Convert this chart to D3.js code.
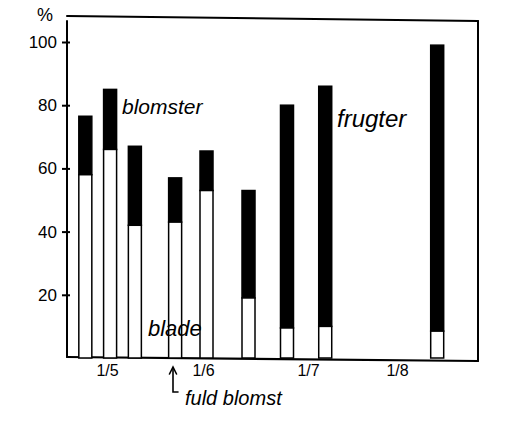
<!DOCTYPE html>
<html>
<head>
<meta charset="utf-8">
<script src="https://cdn.jsdelivr.net/npm/d3@7"></script>
<style>
  html, body { margin: 0; padding: 0; background: #fff; }
  svg { display: block; }
  text { font-family: "Liberation Sans", "DejaVu Sans", sans-serif; fill: #000; }
</style>
</head>
<body>
<svg id="chart" width="527" height="429"></svg>
<script>
// ---- data ----
const dates = ["24/4", "2/5", "10/5", "23/5", "2/6", "14/6", "25/6", "7/7", "15/8"];
const blade = [58, 66, 42, 43, 53, 19, 9.5, 10, 8.5];            // white part
const blomsterFrugter = [18.5, 19, 25, 14, 12.5, 34, 70.5, 76, 90.5]; // black part
const xTickLabels = ["1/5", "1/6", "1/7", "1/8"];
const yTicks = [20, 40, 60, 80, 100];
const annotations = ["blomster", "frugter", "blade", "fuld blomst"];

// ---- helpers ----
const parse = s => { const [d, m] = s.split("/").map(Number); return new Date(2000, m - 1, d); };

const svg = d3.select("#chart");

const x = d3.scaleTime()
  .domain(xTickLabels.map(parse))
  .range([107, 203, 308, 397]);
const y = d3.scaleLinear().domain([0, 100]).range([358, 42]);

const barW = 13;
const data = dates.map((d, i) => ({ date: parse(d), blade: blade[i], top: blade[i] + blomsterFrugter[i] }));

// ---- frame ----
const frame = svg.append("g").attr("stroke", "#000").attr("fill", "none").attr("stroke-linecap", "round");
frame.append("line").attr("x1", 67).attr("y1", 16).attr("x2", 478).attr("y2", 21).attr("stroke-width", 2);
frame.append("line").attr("x1", 67).attr("y1", 21).attr("x2", 67).attr("y2", 357).attr("stroke-width", 2);
frame.append("line").attr("x1", 478).attr("y1", 21).attr("x2", 478).attr("y2", 361).attr("stroke-width", 2);
frame.append("line").attr("x1", 67).attr("y1", 357).attr("x2", 478).attr("y2", 361).attr("stroke-width", 2.2);

// ---- bars ----
const bars = svg.append("g");
bars.selectAll("rect.blk").data(data).join("rect")
  .attr("class", "blk")
  .attr("x", d => x(d.date) - barW / 2)
  .attr("width", barW)
  .attr("y", d => y(d.top))
  .attr("height", d => y(d.blade) - y(d.top))
  .attr("fill", "#000").attr("stroke", "#000").attr("stroke-width", 1.5);
bars.selectAll("rect.wht").data(data).join("rect")
  .attr("class", "wht")
  .attr("x", d => x(d.date) - barW / 2)
  .attr("width", barW)
  .attr("y", d => y(d.blade))
  .attr("height", d => y(0) - y(d.blade))
  .attr("fill", "#fff").attr("stroke", "#000").attr("stroke-width", 1.5);

// ---- y axis ----
const yAxis = svg.append("g").attr("transform", "translate(70,0)")
  .call(d3.axisLeft(y).tickValues(yTicks).tickSize(8).tickPadding(5).tickFormat(d3.format("d")));
yAxis.select(".domain").remove();
yAxis.selectAll(".tick line").attr("stroke", "#000").attr("stroke-width", 2);
yAxis.selectAll(".tick text").attr("font-size", 17).attr("font-family", "Liberation Sans, sans-serif").attr("fill", "#000");
svg.append("text").attr("x", 45).attr("y", 21).attr("text-anchor", "middle").attr("font-size", 18).text("%");

// ---- x axis ----
const xAxis = svg.append("g").attr("transform", "translate(0,359)")
  .call(d3.axisBottom(x).tickValues(xTickLabels.map(parse)).tickSize(0).tickPadding(6)
    .tickFormat((d, i) => xTickLabels[i]));
xAxis.select(".domain").remove();
xAxis.selectAll(".tick text").attr("font-size", 16).attr("font-family", "Liberation Sans, sans-serif").attr("fill", "#000");

// ---- annotations ----
svg.append("text").attr("x", 122).attr("y", 114).attr("font-size", 21).attr("font-style", "italic").text(annotations[0]);
svg.append("text").attr("x", 337).attr("y", 127).attr("font-size", 24).attr("font-style", "italic").text(annotations[1]);
svg.append("text").attr("x", 148).attr("y", 336).attr("font-size", 22).attr("font-style", "italic").text(annotations[2]);
svg.append("text").attr("x", 185).attr("y", 405).attr("font-size", 20).attr("font-style", "italic").text(annotations[3]);

// arrow for "fuld blomst"
const arr = svg.append("g").attr("stroke", "#000").attr("fill", "none").attr("stroke-width", 1.6).attr("stroke-linecap", "round");
arr.append("path").attr("d", "M178,392 L173,392 L173,368");
arr.append("path").attr("d", "M169.5,374 L173,367 L176.5,374");
</script>
</body>
</html>
